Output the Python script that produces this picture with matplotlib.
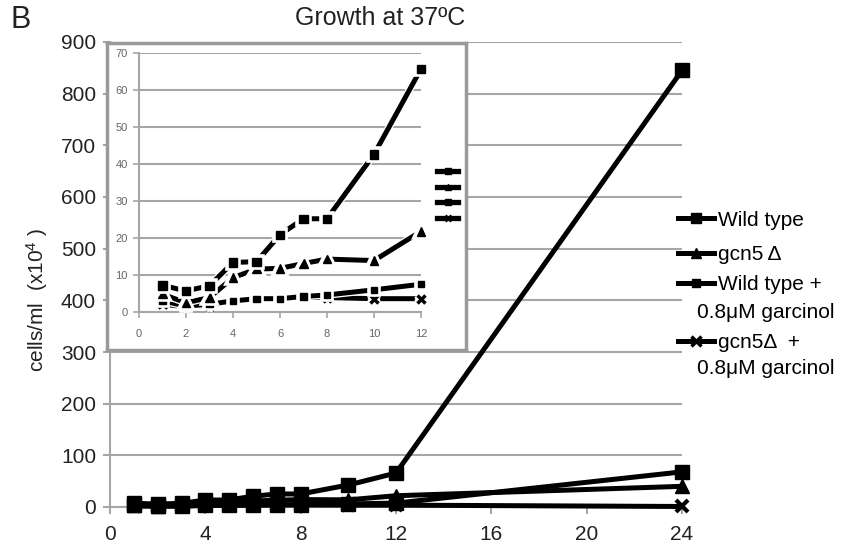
import matplotlib
matplotlib.use("Agg")
import matplotlib.pyplot as plt
from matplotlib.lines import Line2D
import matplotlib.patheffects as pe

plt.rcParams['font.family'] = ['Liberation Sans', 'DejaVu Sans']
plt.rcParams['mathtext.fontset'] = 'custom'
plt.rcParams['mathtext.rm'] = 'Liberation Sans'
plt.rcParams['mathtext.it'] = 'Liberation Sans'

# ---- data ----
hours = [1, 2, 3, 4, 5, 6, 7, 8, 10, 12, 24]
wild_type = [7.2, 5.7, 7.1, 13.4, 13.6, 20.9, 25.2, 25.2, 42.6, 65.7, 845]
gcn5 = [4.8, 2.5, 3.9, 9.3, 11.6, 11.8, 13.1, 14.3, 13.9, 21.8, 40]
wt_garcinol = [3.0, 1.6, 2.1, 3.0, 3.6, 3.6, 4.2, 4.6, 6.0, 7.5, 68]
gcn5_garcinol = [2.1, 1.4, 1.8, 3.0, 3.6, 3.6, 4.1, 3.9, 3.6, 3.6, 1]
labels = ["Wild type", "gcn5\u2009\u0394", "Wild type +", "gcn5\u0394  +"]
second_lines = ["0.8\u03bcM garcinol", "0.8\u03bcM garcinol"]
main_xticks = [0, 4, 8, 12, 16, 20, 24]
main_yticks = list(range(0, 901, 100))
inset_xticks = list(range(0, 13, 2))
inset_yticks = list(range(0, 71, 10))
inset_max_hour = 12

series = [wild_type, gcn5, wt_garcinol, gcn5_garcinol]
markers = ['s', '^', 's', 'x']
main_ms = [10.5, 10.5, 9.5, 9]
inset_ms = [6, 6, 4.5, 6]
leg_ms = [7, 7, 5.5, 7]

W, H = 846, 548
fig = plt.figure(figsize=(W / 100, H / 100), dpi=100)
GRID = '#a6a6a6'

def fx(px):
    return px / W

def fy(py):
    return 1 - py / H

# main axes
ax = fig.add_axes([fx(110), fy(507), fx(682) - fx(110), fy(42) - fy(507)])
ax.set_xlim(0, 24)
ax.set_ylim(0, 900)
ax.set_xticks(main_xticks)
ax.set_yticks(main_yticks)
ax.grid(axis='y', color=GRID, lw=1.5)
ax.set_axisbelow(True)
for s in ['top', 'right']:
    ax.spines[s].set_visible(False)
for s in ['left', 'bottom']:
    ax.spines[s].set_color(GRID)
    ax.spines[s].set_linewidth(1.5)
ax.tick_params(axis='both', direction='out', length=5, width=1.5, color=GRID,
               labelsize=15, labelcolor='#222')
ax.tick_params(axis='x', pad=8)
ax.tick_params(axis='y', pad=5)

for i in [3, 2, 1, 0]:
    ax.plot(hours, series[i], color='black', lw=3.6, marker=markers[i],
            ms=main_ms[i], mew=3 if markers[i] == 'x' else 1,
            mfc='black', mec='black', clip_on=False, zorder=3 + (3 - i))

# inset frame
fr = fig.add_axes([fx(107), fy(350), fx(466) - fx(107), fy(43) - fy(350)], zorder=5)
fr.set_xticks([])
fr.set_yticks([])
for s in fr.spines.values():
    s.set_color('#9a9a9a')
    s.set_linewidth(2.5)
fr.set_facecolor('white')

# inset axes
ai = fig.add_axes([fx(139), fy(312), fx(421) - fx(139), fy(53) - fy(312)], zorder=6)
ai.patch.set_alpha(0)
ai.set_xlim(0, 12)
ai.set_ylim(0, 70)
ai.set_xticks(inset_xticks)
ai.set_yticks(inset_yticks)
ai.grid(axis='y', color=GRID, lw=1.5)
ai.set_axisbelow(True)
for s in ['top', 'right']:
    ai.spines[s].set_visible(False)
for s in ['left', 'bottom']:
    ai.spines[s].set_color(GRID)
    ai.spines[s].set_linewidth(1.5)
ai.tick_params(axis='both', direction='out', length=4, width=1.2, color=GRID,
               labelsize=8, labelcolor='#666')
ai.tick_params(axis='x', pad=8)
ai.tick_params(axis='y', pad=4)

n_in = sum(1 for h in hours if h <= inset_max_hour)
for i in [3, 2, 1, 0]:
    ai.plot(hours[:n_in], series[i][:n_in], color='black', lw=3.6,
            marker=markers[i], ms=inset_ms[i], mew=2.5 if markers[i] == 'x' else 1,
            mfc='black', mec='black', clip_on=False, zorder=3 + (3 - i),
            path_effects=[pe.Stroke(linewidth=5.5, foreground='white'), pe.Normal()])

# inset legend (markers only)
ih = [Line2D([], [], color='black', lw=3.8, marker=markers[i], ms=4.5,
             mew=2 if markers[i] == 'x' else 1,
             mfc='black', mec='black') for i in range(4)]
lg_in = fig.legend(ih, [''] * 4, loc='center left',
                   bbox_to_anchor=(fx(437), fy(195.5)), frameon=False,
                   fontsize=8, handlelength=1.9, handletextpad=0,
                   labelspacing=0.5, borderpad=0, borderaxespad=0)
lg_in.set_zorder(8)

# main legend (one entry each, at its own row)
rows = [220, 255, 285, 343]
for i in range(4):
    h = Line2D([], [], color='black', lw=3.6, marker=markers[i], ms=leg_ms[i],
               mew=2.5 if markers[i] == 'x' else 1, mfc='black', mec='black')
    fig.legend([h], [labels[i]], loc='center left',
               bbox_to_anchor=(fx(678), fy(rows[i])), frameon=False,
               fontsize=15, handlelength=1.75, handletextpad=0.15,
               borderpad=0, borderaxespad=0)
fig.text(fx(697), fy(313), second_lines[0], fontsize=15, va='center', ha='left')
fig.text(fx(697), fy(368), second_lines[1], fontsize=15, va='center', ha='left')

# texts
fig.text(fx(37), fy(300), 'cells/ml  (x10$^{4}$ )', rotation=90, fontsize=15,
         va='center', ha='center', color='#222')
fig.text(fx(380), fy(18), 'Growth at 37\u00baC', fontsize=18, ha='center',
         va='center', color='#222')
fig.text(fx(10), fy(20), 'B', fontsize=22, ha='left', va='center', color='#222')

fig.savefig('out.png', dpi=100)
